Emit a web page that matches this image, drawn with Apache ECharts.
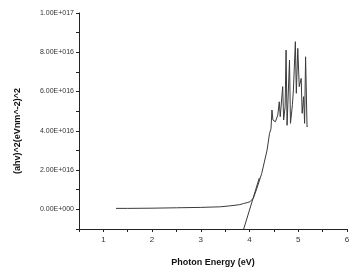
<!DOCTYPE html>
<html><head><meta charset="utf-8">
<script src="https://cdn.jsdelivr.net/npm/echarts@6/dist/echarts.min.js"></script>
<style>html,body{margin:0;padding:0;background:#fff}#c{width:354px;height:268px}</style>
</head><body><div id="c"></div>
<script>
// Measured curve: photon energy (eV)
const energy = [1.26,1.5,2.0,2.5,3.0,3.4,3.6,3.8,3.88,3.95,4.01,4.08,4.15,4.25,4.36,4.41,4.44,4.46,4.48,4.53,4.58,4.61,4.63,4.68,4.70,4.73,4.75,4.77,4.82,4.84,4.88,4.90,4.94,4.96,4.99,5.02,5.06,5.08,5.11,5.13,5.15,5.18,5.19];
// (ahv)^2 values
const absorb = [5e14,5e14,6e14,8e14,1.0e15,1.3e15,1.8e15,2.4e15,3.0e15,3.4e15,3.9e15,5.8e15,1.07e16,1.83e16,3.02e16,3.87e16,4.1e16,5.06e16,4.55e16,4.46e16,4.8e16,5.48e16,4.72e16,6.25e16,4.55e16,5.23e16,8.11e16,4.28e16,7.6e16,4.38e16,5.33e16,6.08e16,8.54e16,5.91e16,8.2e16,6.25e16,6.67e16,4.89e16,5.74e16,4.38e16,7.77e16,4.21e16,4.25e16];
// Linear (Tauc) fit line
const fitEnergy = [3.88, 4.2];
const fitValue = [-1.0e16, 1.6e16];
// Axis labels
const xTicks = [1,2,3,4,5,6];
const yTicks = ['0.00E+000','2.00E+016','4.00E+016','6.00E+016','8.00E+016','1.00E+017'];

const chart = echarts.init(document.getElementById('c'));
chart.setOption({
  animation:false,
  grid:{left:79,right:7,top:13,bottom:39,containLabel:false,outerBoundsMode:'none'},
  xAxis:{type:'value',min:0.5,max:6,interval:0.5,
    name:'Photon Energy (eV)',nameLocation:'middle',nameGap:29,
    nameTextStyle:{fontFamily:'Liberation Sans',fontWeight:'bold',fontSize:9,color:'#111'},
    axisLine:{onZero:false,lineStyle:{color:'#222',width:1}},
    axisTick:{inside:false,length:3,lineStyle:{color:'#222'}},
    axisLabel:{margin:7,fontFamily:'Liberation Sans',fontSize:8,color:'#333',
      formatter:v=>{const i=xTicks.indexOf(Math.round(v*100)/100);return i>=0?String(xTicks[i]):'';}},
    splitLine:{show:false}},
  yAxis:{type:'value',min:-1e16,max:1e17,interval:1e16,
    name:'(ahv)^2(eVnm^-2)^2',nameLocation:'middle',nameGap:57,nameRotate:90,
    nameTextStyle:{fontFamily:'Liberation Sans',fontWeight:'bold',fontSize:9,color:'#111',padding:[0,0,0,-20]},
    axisLine:{show:true,lineStyle:{color:'#222',width:1}},
    axisTick:{show:true,inside:false,length:3,lineStyle:{color:'#222'}},
    axisLabel:{margin:5,fontFamily:'Liberation Sans',fontSize:7,color:'#333',
      formatter:v=>{const k=Math.round(v/2e16);if(Math.abs(v-k*2e16)>1e14||k<0)return '';return yTicks[k]||'';}},
    splitLine:{show:false}},
  series:[
    {type:'line',data:energy.map((e,i)=>[e,absorb[i]]),showSymbol:false,
     lineStyle:{color:'#3a3a3a',width:1},z:3},
    {type:'line',data:fitEnergy.map((e,i)=>[e,fitValue[i]]),showSymbol:false,
     lineStyle:{color:'#3a3a3a',width:1},z:2}
  ]
});
</script></body></html>
